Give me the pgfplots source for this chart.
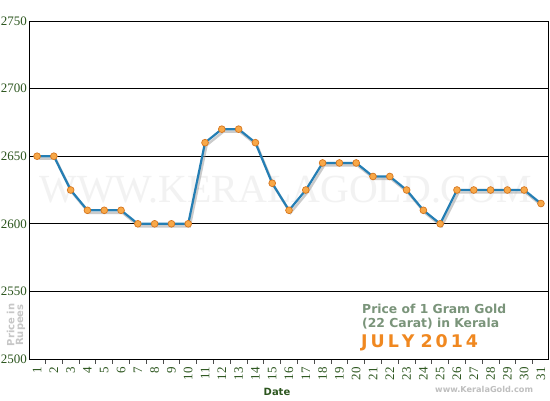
\documentclass[border=0pt]{standalone}
\usepackage{pgfplots}
\pgfplotsset{compat=1.18}
\usepackage{fontspec}
\setmainfont{Liberation Serif}
\newfontfamily\vsans{DejaVu Sans}
\definecolor{tickgreen}{RGB}{44,86,30}
\definecolor{linblue}{RGB}{36,126,180}
\definecolor{mkfill}{RGB}{248,168,72}
\definecolor{mkdraw}{RGB}{214,118,30}
\definecolor{notegray}{RGB}{122,148,122}
\definecolor{julyor}{RGB}{240,136,32}
\pgfplotstableread{
d p
1 2650
2 2650
3 2625
4 2610
5 2610
6 2610
7 2600
8 2600
9 2600
10 2600
11 2660
12 2670
13 2670
14 2660
15 2630
16 2610
17 2625
18 2645
19 2645
20 2645
21 2635
22 2635
23 2625
24 2610
25 2600
26 2625
27 2625
28 2625
29 2625
30 2625
31 2615
}\gold
\begin{document}
\begin{tikzpicture}[x=1bp,y=1bp]
\useasboundingbox (0,0) rectangle (550,400);
\fill[white] (0,0) rectangle (550,400);
\begin{axis}[
  at={(29bp,41bp)}, anchor=south west,
  scale only axis, width=519bp, height=338bp,
  xmin=0.52, xmax=31.42, ymin=2500, ymax=2750,
  ytick={2500,2550,...,2750},
  xtick={1,...,31},
  minor xtick={1.5,2.5,...,30.5},
  major tick length=0pt,
  minor tick length=4.5bp,
  tick align=outside,
  ytick style={draw=none},
  xtick pos=bottom,
  ymajorgrids, grid style={black, line width=0.9pt},
  minor x grid style={draw=none},
  axis line style={black, line width=0.9pt},
  minor tick style={black!70, line width=0.9pt},
  /pgf/number format/assume math mode=true,
  yticklabel style={font=\fontsize{13}{12}\selectfont, text=tickgreen, anchor=east, inner sep=0.5bp, xshift=-1.5bp},
  xticklabel style={font=\fontsize{13}{12}\selectfont, text=tickgreen, rotate=90, anchor=east, inner sep=1bp},
  xticklabel shift=7bp,
  yticklabel={\pgfmathprintnumber[fixed,1000 sep={}]{\tick}},
  xticklabel={\pgfmathprintnumber[fixed]{\tick}},
  clip=false,
]
\node[text=black!5, font=\fontsize{40}{40}\selectfont] at (axis cs:15.8,2625) {WWW.KERALAGOLD.COM};
\addplot[black!40, opacity=0.5, line width=2.5pt, transform canvas={xshift=1.5bp,yshift=-2.5bp}] table[x=d,y=p]{\gold};
\addplot[linblue, line width=2.2pt, mark=*, mark size=3.4bp,
  mark options={fill=mkfill, draw=mkdraw, line width=0.7pt}] table[x=d,y=p]{\gold};
\end{axis}
\node[text=tickgreen, font=\vsans\bfseries\fontsize{10}{10}\selectfont] at (277,8) {Date};
\node[text=black!22, font=\vsans\bfseries\fontsize{10}{10}\selectfont, rotate=90, align=center, inner sep=0pt] at (16,75) {Price in\\[-1pt]Rupees};
\node[text=notegray, font=\vsans\bfseries\fontsize{12.4}{14}\selectfont, anchor=base west, inner sep=0pt] at (362,87) {Price of 1 Gram Gold};
\node[text=notegray, font=\vsans\bfseries\fontsize{12.4}{14}\selectfont, anchor=base west, inner sep=0pt] at (362,73) {(22 Carat) in Kerala};
\node[text=julyor, font=\vsans\bfseries\fontsize{17.5}{16}\selectfont, anchor=base west, inner sep=0pt] at (361,53) {J\kern3pt U\kern3pt L\kern3pt Y\kern6pt 2\kern3pt 0\kern3pt 1\kern3pt 4};
\node[text=black!25, font=\vsans\bfseries\fontsize{8.2}{8}\selectfont, anchor=west, inner sep=0pt] at (435,11) {www.KeralaGold.com};
\end{tikzpicture}
\end{document}
